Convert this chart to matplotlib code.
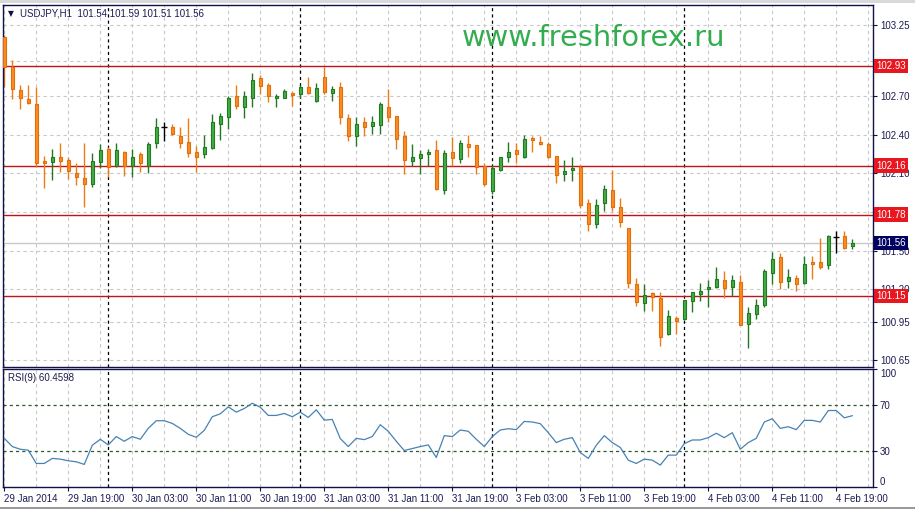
import matplotlib
matplotlib.use("Agg")
import matplotlib.pyplot as plt
from matplotlib.transforms import blended_transform_factory
from matplotlib.patches import Rectangle

# ---------------- data (USDJPY H1, 29 Jan 11:00 .. 4 Feb 21:00) ----------------
opens = [
    103.159, 102.927, 102.744, 102.674, 102.637, 102.193, 102.185, 102.224, 102.201, 102.105,
    102.061, 102.019, 102.185, 102.288, 102.157, 102.265, 102.157, 102.250, 102.157, 102.333,
    102.457, 102.461, 102.392, 102.340, 102.263, 102.247, 102.294, 102.480, 102.534, 102.699,
    102.612, 102.682, 102.837, 102.785, 102.682, 102.682, 102.720, 102.713, 102.767, 102.661,
    102.844, 102.720, 102.767, 102.527, 102.389, 102.496, 102.469, 102.475, 102.616, 102.544,
    102.387, 102.193, 102.216, 102.252, 102.281, 101.970, 102.263, 102.213, 102.327, 102.317,
    102.154, 101.965, 102.123, 102.229, 102.278, 102.229, 102.371, 102.343, 102.327, 102.232,
    102.092, 102.123, 102.151, 101.867, 101.709, 101.867, 101.968, 101.836, 101.674, 101.239,
    101.097, 101.169, 101.135, 100.852, 100.976, 100.968, 101.107, 101.166, 101.203, 101.221,
    101.273, 101.216, 101.255, 100.929, 101.007, 101.079, 101.325, 101.449, 101.267, 101.286,
    101.247, 101.410, 101.410, 101.389, 101.604, 101.616, 101.54]
highs = [
    103.172, 102.979, 102.785, 102.785, 102.767, 102.234, 102.288, 102.333, 102.229, 102.182,
    102.333, 102.255, 102.327, 102.302, 102.333, 102.275, 102.288, 102.268, 102.345, 102.527,
    102.496, 102.480, 102.457, 102.527, 102.314, 102.397, 102.560, 102.565, 102.699, 102.785,
    102.741, 102.875, 102.862, 102.798, 102.713, 102.754, 102.728, 102.785, 102.849, 102.798,
    102.922, 102.777, 102.808, 102.560, 102.534, 102.534, 102.544, 102.655, 102.751, 102.548,
    102.428, 102.327, 102.281, 102.286, 102.358, 102.281, 102.379, 102.358, 102.397, 102.320,
    102.182, 102.164, 102.226, 102.340, 102.333, 102.397, 102.389, 102.389, 102.340, 102.235,
    102.203, 102.224, 102.164, 101.898, 101.898, 102.009, 102.126, 101.906, 101.676, 101.286,
    101.239, 101.177, 101.182, 101.040, 100.996, 101.117, 101.180, 101.247, 101.273, 101.371,
    101.342, 101.311, 101.311, 101.066, 101.125, 101.358, 101.492, 101.480, 101.358, 101.311,
    101.459, 101.459, 101.596, 101.618, 101.653, 101.653, 101.59]
lows = [
    102.769, 102.674, 102.596, 102.637, 102.151, 101.984, 102.048, 102.112, 102.054, 102.009,
    101.836, 101.996, 102.139, 102.074, 102.151, 102.081, 102.074, 102.112, 102.105, 102.294,
    102.353, 102.398, 102.294, 102.224, 102.112, 102.216, 102.290, 102.358, 102.441, 102.596,
    102.527, 102.616, 102.713, 102.651, 102.616, 102.680, 102.622, 102.682, 102.713, 102.651,
    102.715, 102.663, 102.480, 102.353, 102.314, 102.392, 102.402, 102.402, 102.500, 102.286,
    102.092, 102.157, 102.092, 102.157, 101.970, 101.940, 102.157, 102.178, 102.229, 102.092,
    102.004, 101.940, 102.120, 102.188, 102.182, 102.216, 102.263, 102.319, 102.216, 102.022,
    102.040, 102.043, 101.829, 101.655, 101.674, 101.810, 101.810, 101.686, 101.208, 101.073,
    101.035, 101.035, 100.763, 100.850, 100.852, 100.966, 101.027, 101.110, 101.066, 101.213,
    101.131, 101.149, 100.920, 100.748, 100.968, 101.066, 101.239, 101.200, 101.208, 101.187,
    101.239, 101.278, 101.356, 101.356, 101.480, 101.513, 101.51]
closes = [
    102.927, 102.751, 102.682, 102.643, 102.182, 102.178, 102.229, 102.193, 102.116, 102.074,
    102.015, 102.193, 102.278, 102.151, 102.278, 102.157, 102.229, 102.178, 102.325, 102.461,
    102.457, 102.402, 102.333, 102.255, 102.229, 102.302, 102.496, 102.542, 102.682, 102.622,
    102.699, 102.824, 102.777, 102.699, 102.699, 102.738, 102.705, 102.772, 102.720, 102.764,
    102.733, 102.751, 102.534, 102.389, 102.480, 102.461, 102.496, 102.637, 102.534, 102.368,
    102.201, 102.224, 102.247, 102.265, 101.976, 102.255, 102.221, 102.333, 102.302, 102.147,
    102.015, 102.139, 102.224, 102.263, 102.247, 102.364, 102.356, 102.327, 102.224, 102.085,
    102.118, 102.139, 101.852, 101.705, 101.852, 101.976, 101.841, 101.725, 101.247, 101.104,
    101.156, 101.138, 100.833, 100.993, 100.957, 101.115, 101.177, 101.187, 101.218, 101.280,
    101.208, 101.273, 100.924, 101.014, 101.079, 101.342, 101.436, 101.255, 101.294, 101.239,
    101.394, 101.394, 101.376, 101.616, 101.604, 101.523, 101.56]
rsi = [
    41.2, 34.2, 31.9, 31.1, 19.8, 19.8, 24.1, 23.5, 22.1, 21.2,
    19.0, 35.3, 40.4, 35.6, 42.7, 38.7, 42.7, 40.4, 49.7, 56.2,
    56.2, 53.9, 49.7, 44.6, 42.1, 48.0, 59.6, 62.1, 68.0, 63.5,
    66.6, 71.1, 67.7, 60.7, 60.7, 62.4, 59.6, 63.5, 59.0, 65.5,
    56.7, 57.3, 41.0, 34.2, 41.2, 40.1, 42.7, 52.8, 47.2, 38.7,
    30.8, 32.5, 34.2, 35.6, 24.9, 43.5, 42.7, 48.3, 47.2, 40.4,
    34.2, 42.7, 48.3, 49.4, 48.6, 55.6, 55.1, 53.7, 46.0, 37.6,
    40.4, 41.8, 29.1, 24.1, 35.3, 43.5, 37.6, 33.4, 22.6, 19.8,
    23.5, 22.6, 18.4, 26.9, 26.9, 36.7, 39.8, 39.8, 41.8, 45.5,
    41.8, 46.0, 31.9, 37.6, 41.2, 55.1, 57.9, 49.7, 51.1, 48.6,
    56.5, 56.5, 55.1, 64.9, 64.9, 58.7, 60.4598]

time_labels = ["29 Jan 2014", "29 Jan 19:00", "30 Jan 03:00", "30 Jan 11:00",
               "30 Jan 19:00", "31 Jan 03:00", "31 Jan 11:00", "31 Jan 19:00",
               "3 Feb 03:00", "3 Feb 11:00", "3 Feb 19:00", "4 Feb 03:00",
               "4 Feb 11:00", "4 Feb 19:00"]
time_label_bars = [0, 8, 16, 24, 32, 40, 48, 56, 64, 72, 80, 88, 96, 104]
day_start_bars = [13, 37, 61, 85]
price_ticks = [100.65, 100.95, 101.20, 101.50, 101.80, 102.10, 102.40, 102.70, 102.97, 103.25]
# labels hidden behind the level boxes in the reference are left blank
price_tick_labels = ["100.65", "100.95", "101.20", "101.50", "", "102.10",
                     "102.40", "102.70", "", "103.25"]
levels = [102.93, 102.16, 101.78, 101.15]
current_price = 101.56
rsi_ticks = [0, 30, 70, 100]
rsi_levels = [30, 70]

title_text = "USDJPY,H1  101.54 101.59 101.51 101.56"
rsi_text = "RSI(9) 60.4598"
watermark = "www.freshforex.ru"

# ---------------- styling ----------------
W, H = 915, 509
FONT = ["Liberation Sans", "DejaVu Sans"]
NAVY = "#10104a"
TXT = "#1c1c50"
GRID = "#c8c8c8"
BULL_F, BULL_E = "#3fae3f", "#217a21"
BEAR_F, BEAR_E = "#ff8a1e", "#e06e0c"

fig = plt.figure(figsize=(W / 100, H / 100), dpi=100)
fig.patch.set_facecolor("white")

ax = fig.add_axes([3 / W, 1 - 367 / H, 870 / W, 362 / H])
axr = fig.add_axes([3 / W, 1 - 486.7 / H, 870 / W, 117.4 / H])

xmin, xmax = -0.16, 108.59
n = len(opens)
xs = list(range(n))

for a in (ax, axr):
    a.set_xlim(xmin, xmax)
    a.set_facecolor("white")
    for s in a.spines.values():
        s.set_color(NAVY)
        s.set_linewidth(1.0)
    # vertical grid every 4 bars
    for b in range(0, n + 4, 4):
        a.axvline(b, color=GRID, lw=0.8, ls=(0, (3, 3)), zorder=0)
    for b in day_start_bars:
        a.axvline(b, color="black", lw=0.9, ls=(0, (2.5, 2.5)), zorder=0.5)

# ---------------- main price panel ----------------
ax.set_ylim(100.598, 103.405)
for p in price_ticks:
    ax.axhline(p, color=GRID, lw=0.8, ls=(0, (3, 3)), zorder=0)
for lv in levels:
    ax.axhline(lv, color="#c01418", lw=1.0, zorder=1)
ax.axhline(current_price, color="#c8c8c8", lw=1.0, zorder=1)

body_w = 0.44
for i in xs:
    o, h, l, c = opens[i], highs[i], lows[i], closes[i]
    if c > o:
        fc, ec, wc = BULL_F, BULL_E, BULL_E
    elif c < o:
        fc, ec, wc = BEAR_F, BEAR_E, "#ee7a12"
    else:
        fc, ec, wc = "black", "black", "black"
    ax.vlines(i, l, h, color=wc, lw=1.0, zorder=2)
    if c == o:
        ax.hlines(o, i - 0.35, i + 0.35, color="black", lw=1.0, zorder=3)
    else:
        ax.bar(i, abs(c - o), bottom=min(o, c), width=body_w, color=fc,
               edgecolor=ec, linewidth=0.8, zorder=3)

ax.yaxis.tick_right()
ax.set_yticks(price_ticks)
ax.set_yticklabels(price_tick_labels)
ax.tick_params(axis="y", length=3, width=0.8, color=NAVY, pad=2,
               labelsize=7, labelcolor=TXT)
for t in ax.get_yticklabels():
    t.set_family(FONT)
ax.set_xticks([])

tr = blended_transform_factory(ax.transAxes, ax.transData)
for lv in levels:
    ax.text(1.0035, lv, f"{lv:.2f}", transform=tr, ha="left", va="center",
            fontsize=7, family=FONT, color="white", clip_on=False, zorder=10,
            bbox=dict(boxstyle="square,pad=0.22", fc="#e8161e", ec="none"))
ax.text(1.0035, current_price, f"{current_price:.2f}", transform=tr, ha="left",
        va="center", fontsize=7, family=FONT, color="white", clip_on=False,
        zorder=10, bbox=dict(boxstyle="square,pad=0.22", fc="#000060", ec="none"))

ax.text(459 / 870, 1 - 41.5 / 362, watermark, transform=ax.transAxes,
        ha="left", va="baseline", fontsize=20.8, family="DejaVu Sans",
        color="#34ac50", zorder=5)

fig.text(8 / W, 1 - 14 / H, "\u25BC", fontsize=5.5, family="DejaVu Sans",
         color=NAVY, ha="left", va="center")
fig.text(20 / W, 1 - 14 / H, title_text, fontsize=7, family=FONT,
         color=TXT, ha="left", va="center")

# ---------------- RSI panel ----------------
axr.set_ylim(0, 100)
for lv in rsi_levels:
    axr.axhline(lv, color="#2c5a2c", lw=0.9, ls=(0, (2.5, 2.5)), zorder=1)
axr.plot(xs, rsi, color="#4682b4", lw=0.9, zorder=3)
axr.yaxis.tick_right()
axr.set_yticks(rsi_ticks)
axr.set_yticklabels([str(v) for v in rsi_ticks])
axr.tick_params(axis="y", length=3, width=0.8, color=NAVY, pad=2,
                labelsize=7, labelcolor=TXT)
for t, v in zip(axr.get_yticklabels(), rsi_ticks):
    t.set_family(FONT)
    if v == 100:
        t.set_va("top")
    elif v == 0:
        t.set_va("bottom")

axr.set_xticks(time_label_bars)
axr.set_xticklabels(time_labels)
axr.tick_params(axis="x", length=3, width=0.8, color=NAVY, pad=2.5,
                labelsize=7, labelcolor=TXT)
for t in axr.get_xticklabels():
    t.set_family(FONT)
    t.set_ha("left")

axr.text(5 / 870, 1 - 9 / 117.4, rsi_text, transform=axr.transAxes,
         ha="left", va="center", fontsize=7, family=FONT, color=TXT, zorder=5)

# window chrome: thin top strip and bottom tab line
fig.patches.append(Rectangle((0, 1 - 3 / H), 1, 3 / H, transform=fig.transFigure,
                             fc="#d9d9d9", ec="none", zorder=0))
fig.patches.append(Rectangle((0, 0), 1, 2.5 / H, transform=fig.transFigure,
                             fc="#9a9a9a", ec="none", zorder=0))

fig.savefig("out.png", dpi=100, facecolor="white")
